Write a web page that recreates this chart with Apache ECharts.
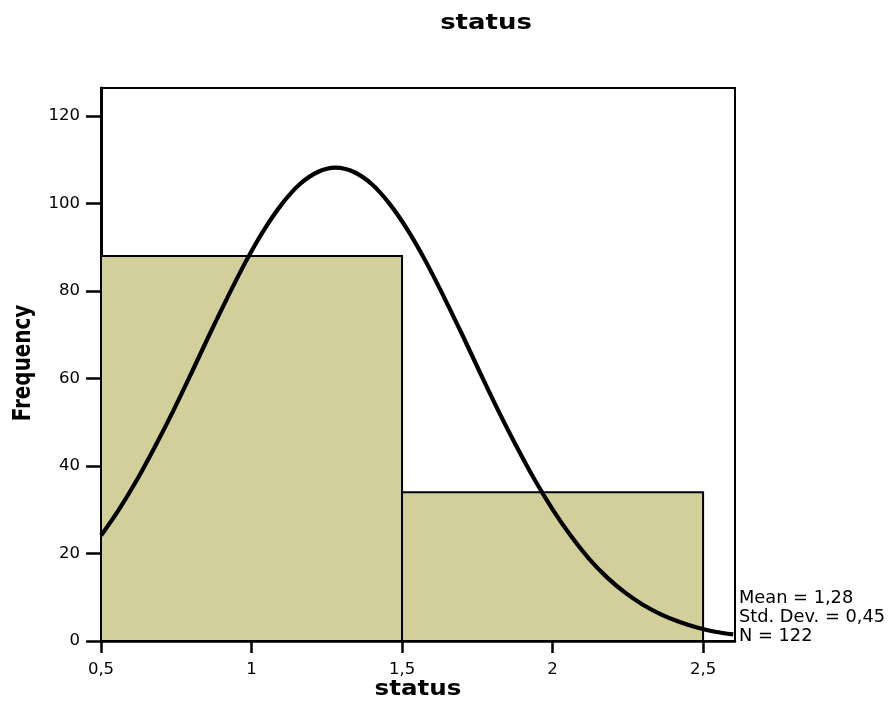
<!DOCTYPE html>
<html>
<head>
<meta charset="utf-8">
<script src="https://cdn.jsdelivr.net/npm/echarts@6/dist/echarts.min.js"></script>
<style>
  html, body { margin: 0; padding: 0; background: #fff; }
  #chart { width: 893px; height: 705px; }
</style>
</head>
<body>
<div id="chart"></div>
<script>
// Histogram bins of "status"
const binStarts = [0.5, 1.5];
const binEnds = [1.5, 2.5];
const frequencies = [88, 34];

// Fitted normal curve, sampled symmetrically around its peak
const curveX = [0.50, 0.56, 0.62, 0.68, 0.74, 0.80, 0.86, 0.92, 0.98, 1.04, 1.10, 1.16, 1.22,
  1.28,
  1.34, 1.40, 1.46, 1.52, 1.58, 1.64, 1.70, 1.76, 1.82, 1.88, 1.94, 2.00, 2.06, 2.12, 2.18,
  2.24, 2.30, 2.36, 2.42, 2.48, 2.54, 2.60];
const curveY = [24.1, 30.1, 36.9, 44.5, 52.6, 61.2, 70.0, 78.5, 86.6, 93.8, 99.8, 104.4, 107.2,
  108.2,
  107.2, 104.4, 99.8, 93.8, 86.6, 78.5, 70.0, 61.2, 52.6, 44.5, 36.9, 30.1, 24.1, 18.9, 14.6,
  11.1, 8.3, 6.1, 4.4, 3.1, 2.1, 1.5];

// Tick labels
const xTicks = [0.5, 1, 1.5, 2, 2.5];
const yTicks = [0, 20, 40, 60, 80, 100, 120];

// Titles and summary statistics
const chartTitle = 'status';
const xAxisTitle = 'status';
const yAxisTitle = 'Frequency';
const statLines = ['Mean = 1,28', 'Std. Dev. = 0,45', 'N = 122'];

const FONT = 'DejaVu Sans';
const chart = echarts.init(document.getElementById('chart'), null, { renderer: 'canvas' });

const barData = binStarts.map((s, i) => [s, binEnds[i], frequencies[i]]);
const curveData = curveX.map((x, i) => [x, curveY[i]]);
const decimalComma = v => String(v).replace('.', ',');

chart.setOption({
  animation: false,
  backgroundColor: '#fff',
  grid: {
    left: 101, right: 158, top: 88, bottom: 64,
    containLabel: false, outerBoundsMode: 'none',
    show: true, borderColor: '#000', borderWidth: 2, backgroundColor: 'transparent'
  },
  xAxis: {
    type: 'value', min: 0.5, max: 2.606,
    axisLine: { show: true, onZero: false, lineStyle: { color: '#000', width: 2.5 } },
    axisTick: { show: true, customValues: xTicks, length: 12, inside: false, lineStyle: { color: '#000', width: 2.5 } },
    axisLabel: { customValues: xTicks, formatter: decimalComma, fontFamily: FONT, fontSize: 16.5, color: '#000', margin: 20 },
    splitLine: { show: false }
  },
  yAxis: {
    type: 'value', min: 0, max: 126.4,
    axisLine: { show: true, onZero: false, lineStyle: { color: '#000', width: 3 } },
    axisTick: { show: true, customValues: yTicks, length: 15, inside: false, lineStyle: { color: '#000', width: 2.5 } },
    axisLabel: { customValues: yTicks, fontFamily: FONT, fontSize: 16.5, color: '#000', margin: 21 },
    splitLine: { show: false }
  },
  series: [
    {
      type: 'custom',
      data: barData,
      encode: { x: [0, 1], y: 2 },
      renderItem: function (params, api) {
        const p0 = api.coord([api.value(0), 0]);
        const p1 = api.coord([api.value(1), api.value(2)]);
        return {
          type: 'rect',
          shape: { x: p0[0], y: p1[1], width: p1[0] - p0[0], height: p0[1] - p1[1] },
          style: { fill: '#d3cf9b', stroke: '#000', lineWidth: 2 }
        };
      },
      z: 2
    },
    {
      type: 'line',
      data: curveData,
      smooth: 0.33,
      showSymbol: false,
      lineStyle: { color: '#000', width: 4.2 },
      clip: true,
      z: 3
    }
  ],
  graphic: [
    {
      type: 'text', x: 486, y: 23, scaleX: 1.18, z: 10,
      style: { text: chartTitle, fontFamily: FONT, fontWeight: 'bold', fontSize: 22, fill: '#000', textAlign: 'center', textVerticalAlign: 'middle' }
    },
    {
      type: 'text', x: 418, y: 690, scaleX: 1.17, z: 10,
      style: { text: xAxisTitle, fontFamily: FONT, fontWeight: 'bold', fontSize: 21, fill: '#000', textAlign: 'center', textVerticalAlign: 'middle' }
    },
    {
      type: 'text', x: 24, y: 363, rotation: Math.PI / 2, scaleX: 0.83, z: 10,
      style: { text: yAxisTitle, fontFamily: FONT, fontWeight: 'bold', fontSize: 24, fill: '#000', textAlign: 'center', textVerticalAlign: 'middle' }
    },
    {
      type: 'text', z: 10, x: 739, y: 589,
      style: { text: statLines.join('\n'), fontFamily: FONT, fontSize: 17.8, lineHeight: 18.8, fill: '#000', textAlign: 'left', textVerticalAlign: 'top' }
    }
  ]
});
</script>
</body>
</html>
